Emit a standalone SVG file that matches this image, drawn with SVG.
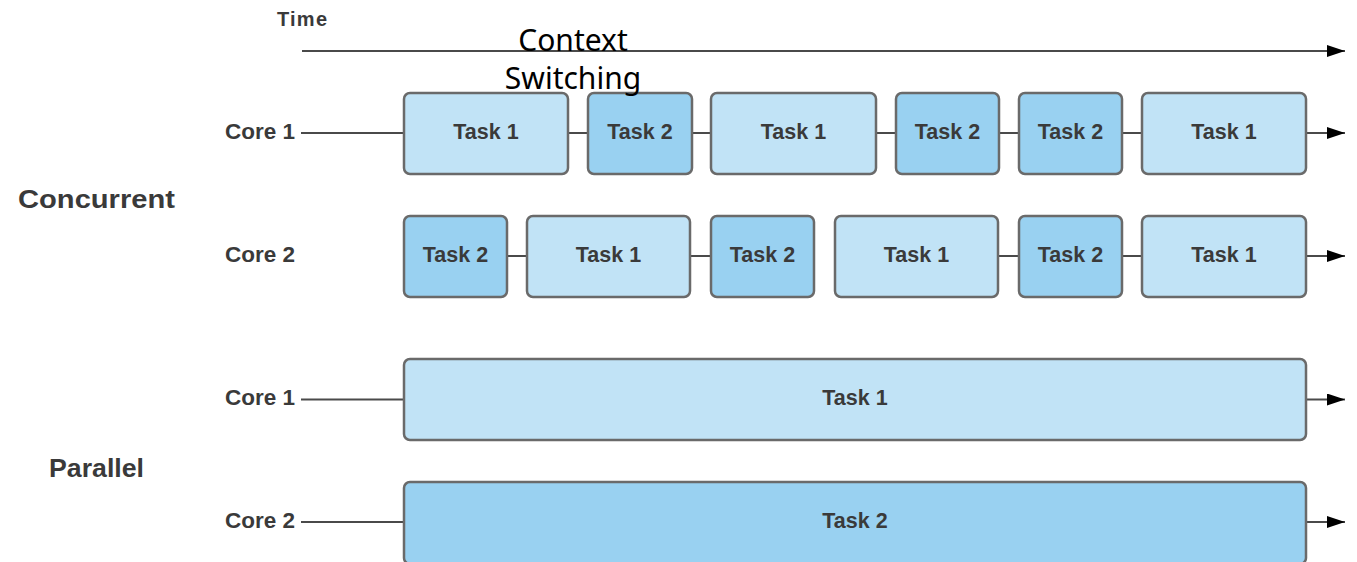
<svg xmlns="http://www.w3.org/2000/svg" width="1357" height="562" viewBox="0 0 1357 562">
<style>
.lbl{font-family:"Liberation Sans",Arial,sans-serif;font-weight:bold;fill:#3a3a3a}
.core{font-size:22.5px;text-anchor:end}
.task{font-size:21.5px;text-anchor:middle}
.big{font-size:26px}
.t1{fill:#c1e3f6;stroke:#6a6a6a;stroke-width:2.5}
.t2{fill:#99d1f1;stroke:#6a6a6a;stroke-width:2.5}
.ln{stroke:#4a4a4a;stroke-width:2;fill:none}
.ctx{font-family:"Noto Sans","Open Sans",sans-serif;font-size:30px;fill:#000;text-anchor:middle}
</style>
<defs>
<marker id="arr" markerWidth="18" markerHeight="12" refX="18" refY="6" orient="auto" markerUnits="userSpaceOnUse">
<path d="M0,0 L18,6 L0,12 Z" fill="#000"/>
</marker>
</defs>
<rect width="1357" height="562" fill="#fff"/>

<g id="labels">
<text class="lbl" x="277" y="26" font-size="20" textLength="50">Time</text>
<text class="lbl big" x="18" y="208" textLength="157" lengthAdjust="spacingAndGlyphs">Concurrent</text>
<text class="lbl big" x="49" y="477" textLength="95" lengthAdjust="spacingAndGlyphs">Parallel</text>
<text class="lbl core" x="295" y="139">Core 1</text>
<text class="lbl core" x="295" y="262">Core 2</text>
<text class="lbl core" x="295" y="405">Core 1</text>
<text class="lbl core" x="295" y="528">Core 2</text>
</g>

<g id="connectors">
<line class="ln" x1="302" y1="51" x2="1345" y2="51" marker-end="url(#arr)"/>
<line class="ln" x1="301" y1="133" x2="404" y2="133"/>
<line class="ln" x1="568" y1="133" x2="588" y2="133"/>
<line class="ln" x1="692" y1="133" x2="711" y2="133"/>
<line class="ln" x1="876" y1="133" x2="896" y2="133"/>
<line class="ln" x1="999" y1="133" x2="1019" y2="133"/>
<line class="ln" x1="1122" y1="133" x2="1142" y2="133"/>
<line class="ln" x1="1306" y1="133" x2="1345" y2="133" marker-end="url(#arr)"/>
<line class="ln" x1="507" y1="256" x2="527" y2="256"/>
<line class="ln" x1="690" y1="256" x2="711" y2="256"/>
<line class="ln" x1="998" y1="256" x2="1019" y2="256"/>
<line class="ln" x1="1122" y1="256" x2="1142" y2="256"/>
<line class="ln" x1="1306" y1="256" x2="1345" y2="256" marker-end="url(#arr)"/>
<line class="ln" x1="301" y1="399.5" x2="404" y2="399.5"/>
<line class="ln" x1="1306" y1="399.5" x2="1345" y2="399.5" marker-end="url(#arr)"/>
<line class="ln" x1="301" y1="522" x2="404" y2="522"/>
<line class="ln" x1="1306" y1="522" x2="1345" y2="522" marker-end="url(#arr)"/>
</g>

<g id="c1-1"><rect class="t1" x="404" y="93" width="164" height="81" rx="6"/><text class="lbl task" x="486" y="139">Task 1</text></g>
<g id="c1-2"><rect class="t2" x="588" y="93" width="104" height="81" rx="6"/><text class="lbl task" x="640" y="139">Task 2</text></g>
<g id="c1-3"><rect class="t1" x="711" y="93" width="165" height="81" rx="6"/><text class="lbl task" x="793.5" y="139">Task 1</text></g>
<g id="c1-4"><rect class="t2" x="896" y="93" width="103" height="81" rx="6"/><text class="lbl task" x="947.5" y="139">Task 2</text></g>
<g id="c1-5"><rect class="t2" x="1019" y="93" width="103" height="81" rx="6"/><text class="lbl task" x="1070.5" y="139">Task 2</text></g>
<g id="c1-6"><rect class="t1" x="1142" y="93" width="164" height="81" rx="6"/><text class="lbl task" x="1224" y="139">Task 1</text></g>

<g id="c2-1"><rect class="t2" x="404" y="216" width="103" height="81" rx="6"/><text class="lbl task" x="455.5" y="262">Task 2</text></g>
<g id="c2-2"><rect class="t1" x="527" y="216" width="163" height="81" rx="6"/><text class="lbl task" x="608.5" y="262">Task 1</text></g>
<g id="c2-3"><rect class="t2" x="711" y="216" width="103" height="81" rx="6"/><text class="lbl task" x="762.5" y="262">Task 2</text></g>
<g id="c2-4"><rect class="t1" x="835" y="216" width="163" height="81" rx="6"/><text class="lbl task" x="916.5" y="262">Task 1</text></g>
<g id="c2-5"><rect class="t2" x="1019" y="216" width="103" height="81" rx="6"/><text class="lbl task" x="1070.5" y="262">Task 2</text></g>
<g id="c2-6"><rect class="t1" x="1142" y="216" width="164" height="81" rx="6"/><text class="lbl task" x="1224" y="262">Task 1</text></g>

<g id="p1"><rect class="t1" x="404" y="359" width="902" height="81" rx="6"/><text class="lbl task" x="855" y="405">Task 1</text></g>
<g id="p2"><rect class="t2" x="404" y="482" width="902" height="82" rx="6"/><text class="lbl task" x="855" y="528">Task 2</text></g>

<g id="context-switching">
<text class="ctx" x="573" y="51">Context</text>
<text class="ctx" x="573" y="89">Switching</text>
</g>
</svg>
